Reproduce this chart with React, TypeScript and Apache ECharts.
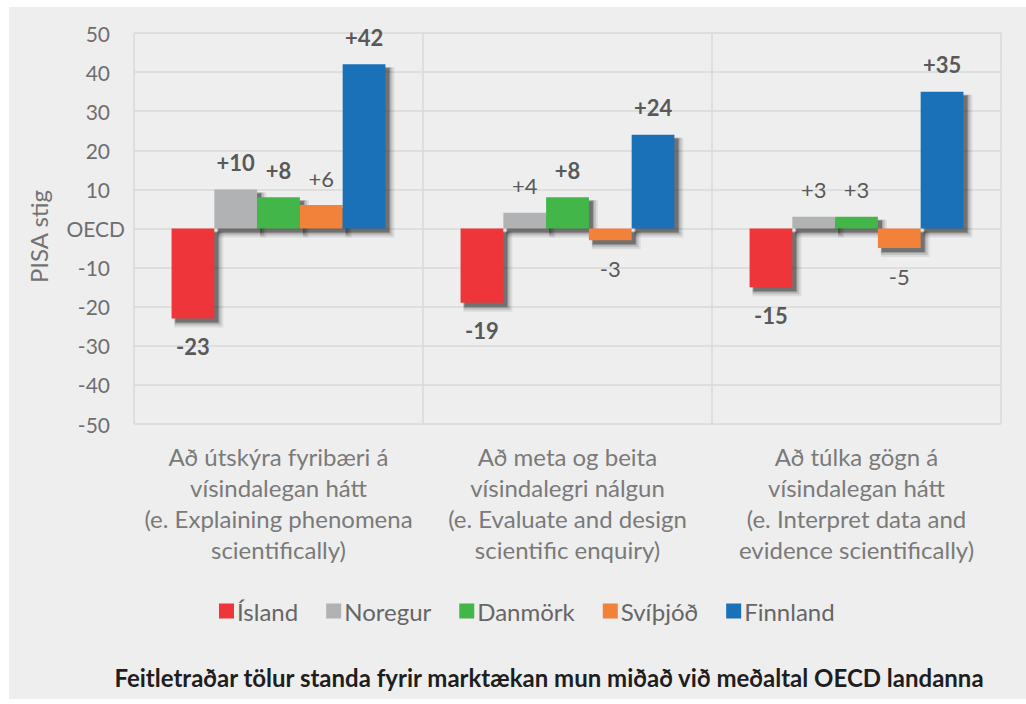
import React, { useEffect, useRef } from "react";
import * as echarts from "echarts";

const categories = [
  "Að útskýra fyribæri á\nvísindalegan hátt\n(e. Explaining phenomena\nscientifically)",
  "Að meta og beita\nvísindalegri nálgun\n(e. Evaluate and design\nscientific enquiry)",
  "Að túlka gögn á\nvísindalegan hátt\n(e. Interpret data and\nevidence scientifically)",
];
const seriesNames = ["Ísland", "Noregur", "Danmörk", "Svíþjóð", "Finnland"];
const seriesColors = ["#EE3539", "#B1B2B4", "#43B649", "#F2813A", "#1A71B8"];
const islandValues = [-23, -19, -15];
const noregurValues = [10, 4, 3];
const danmorkValues = [8, 8, 3];
const svithjodValues = [6, -3, -5];
const finnlandValues = [42, 24, 35];
const seriesValues = [islandValues, noregurValues, danmorkValues, svithjodValues, finnlandValues];
// significance (bold label) per series per category
const islandSig = [true, true, true];
const noregurSig = [true, false, false];
const danmorkSig = [true, true, false];
const svithjodSig = [false, false, false];
const finnlandSig = [true, true, true];
const seriesSig = [islandSig, noregurSig, danmorkSig, svithjodSig, finnlandSig];
const yMin = -50;
const yMax = 50;
const yInterval = 10;
const yAxisName = "PISA stig";
const zeroLabel = "OECD";
const footnote = "Feitletraðar tölur standa fyrir marktækan mun miðað við meðaltal OECD landanna";

const FONT = "Lato, 'Open Sans', sans-serif";
const CAT_GAP = 0.26;

export default function App() {
  const ref = useRef<HTMLDivElement>(null);
  useEffect(() => {
    document.body.style.margin = "0";
    const chart = echarts.init(ref.current!, null, { renderer: "svg" });
    const barSeries = seriesNames.map((name, si) => ({
      name,
      type: "bar",
      z: 3,
      barGap: "0%",
      barCategoryGap: CAT_GAP * 100 + "%",
      itemStyle: { color: seriesColors[si] },
      data: seriesValues[si].map((v, ci) => ({
        value: v,
        label: {
          show: true,
          position: v >= 0 ? "top" : "bottom",
          distance: v >= 0 ? 16 : 17,
          fontWeight: seriesSig[si][ci] ? "bold" : "normal",
          fontSize: 22,
          fontFamily: FONT,
          color: "#595959",
          formatter: v > 0 ? "+" + v : String(v),
        },
      })),
    }));
    const shadowData: number[][] = [];
    seriesValues.forEach((vals, si) => vals.forEach((v, ci) => shadowData.push([ci, si, v])));
    const shadowSeries = {
      type: "custom",
      z: 2,
      silent: true,
      encode: { x: 0, y: 2 },
      data: shadowData,
      renderItem: (params: any, api: any) => {
        const ci = api.value(0);
        const si = api.value(1);
        const v = api.value(2);
        const catW = api.size([1, 0])[0];
        const groupW = catW * (1 - CAT_GAP);
        const bw = groupW / seriesNames.length;
        const p0 = api.coord([ci, 0]);
        const p1 = api.coord([ci, v]);
        const x = p0[0] - groupW / 2 + si * bw;
        const top = Math.min(p0[1], p1[1]);
        const h = Math.abs(p1[1] - p0[1]);
        const layers = [
          { d: 6, e: 3, o: 0.08 },
          { d: 5, e: 2, o: 0.12 },
          { d: 4, e: 1, o: 0.18 },
          { d: 4, e: 0, o: 0.28 },
        ];
        return {
          type: "group",
          children: layers.map((l) => ({
            type: "rect",
            shape: { x: x + l.d - l.e, y: top + l.d - l.e, width: bw + 2 * l.e, height: h + 2 * l.e },
            style: { fill: "rgba(0,0,0," + l.o + ")" },
          })),
        };
      },
    };
    chart.setOption({
      animation: false,
      textStyle: { fontFamily: FONT },
      graphic: [
        {
          type: "rect",
          z: -10,
          silent: true,
          shape: { x: 9, y: 7, width: 1017, height: 692 },
          style: { fill: "#EEEEEE" },
        },
        {
          type: "text",
          x: 549,
          y: 677,
          style: {
            text: footnote,
            fontFamily: FONT,
            fontWeight: "bold",
            fontSize: 24,
            fill: "#1E1E1E",
            textAlign: "center",
            textVerticalAlign: "middle",
          },
        },
      ],
      grid: { left: 134, top: 33, right: 25, bottom: 280, containLabel: false },
      legend: {
        left: 214,
        top: 594,
        itemWidth: 15,
        itemHeight: 15,
        itemGap: 28,
        icon: "rect",
        textStyle: { fontSize: 24, color: "#666666", fontFamily: FONT, padding: [0, 0, 0, -2] },
        data: seriesNames,
      },
      xAxis: {
        type: "category",
        data: categories,
        axisLine: { show: false },
        axisTick: { show: false },
        splitLine: { show: true, lineStyle: { color: "#D9D9D9", width: 1.5 } },
        axisLabel: {
          margin: 17,
          fontSize: 24,
          lineHeight: 31,
          color: "#7A7A7A",
          fontFamily: FONT,
          interval: 0,
        },
      },
      yAxis: {
        type: "value",
        min: yMin,
        max: yMax,
        interval: yInterval,
        name: yAxisName,
        nameLocation: "middle",
        nameGap: 84,
        nameTextStyle: { fontSize: 24, color: "#737373", fontFamily: FONT, padding: [0, 16, 0, 0] },
        axisLine: { show: false },
        axisTick: { show: false },
        splitLine: { lineStyle: { color: "#D9D9D9", width: 1.5 } },
        axisLabel: {
          margin: 9,
          formatter: (v: number) => (v === 0 ? "{o|" + zeroLabel + "}" : "{n|" + v + "}"),
          rich: {
            o: { fontSize: 21, color: "#6E6E6E", fontFamily: FONT },
            n: { fontSize: 21, color: "#6E6E6E", fontFamily: FONT, padding: [0, 15, 0, 0] },
          },
        },
      },
      series: [shadowSeries, ...barSeries],
    });
    return () => chart.dispose();
  }, []);
  return <div ref={ref} style={{ width: 1026, height: 704, background: "#FFFFFF" }} />;
}
